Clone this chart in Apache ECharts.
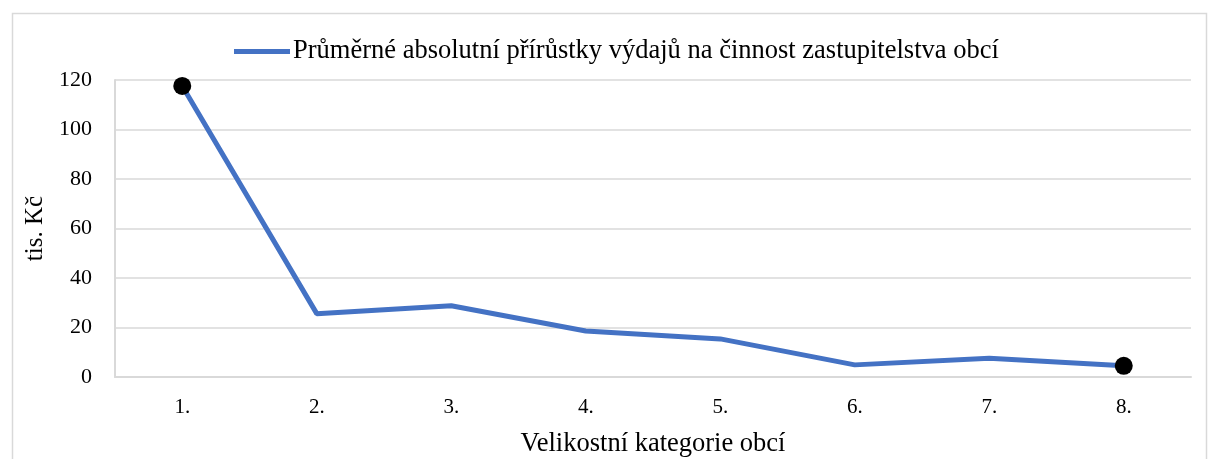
<!DOCTYPE html>
<html>
<head>
<meta charset="UTF-8">
<title>ECharts</title>
<script src="https://cdn.jsdelivr.net/npm/echarts@6/dist/echarts.min.js"></script>
<style>
  html, body { margin: 0; padding: 0; background: #fff; }
  #main { width: 1208px; height: 459px; }
</style>
</head>
<body>
<div id="main"></div>
<script>
// data
var categories = ['1.', '2.', '3.', '4.', '5.', '6.', '7.', '8.'];
var prirustky = [117.6, 25.6, 28.8, 18.6, 15.4, 4.9, 7.6, 4.5];
var seriesName = 'Průměrné absolutní přírůstky výdajů na činnost zastupitelstva obcí';

var font = 'Liberation Serif';
var myChart = echarts.init(document.getElementById('main'));

// only first and last point get a marker
var lineData = prirustky.map(function (v, i) {
    var edge = (i === 0 || i === prirustky.length - 1);
    return {
        value: v,
        symbol: edge ? 'circle' : 'none',
        symbolSize: 18,
        itemStyle: { color: '#000' }
    };
});

var option = {
    animation: false,
    graphic: [{
        type: 'rect',
        left: 10, top: 11,
        shape: { width: 1194, height: 460 },
        style: { fill: 'none', stroke: '#d9d9d9', lineWidth: 1.5 },
        silent: true
    }],
    legend: {
        data: [{ name: seriesName, icon: 'path://M0,0 L56,0 L56,5 L0,5 Z', itemStyle: { color: '#4472C4' } }],
        top: 33,
        left: 229,
        itemWidth: 56,
        itemHeight: 5,
        itemGap: 4,
        textStyle: { fontFamily: font, fontSize: 26.5, color: '#000', padding: [0, 0, 0, -2] }
    },
    grid: { left: 115, right: 17, top: 80, bottom: 82, outerBoundsMode: 'none' },
    xAxis: {
        type: 'category',
        data: categories,
        boundaryGap: true,
        name: 'Velikostní kategorie obcí',
        nameLocation: 'middle',
        nameGap: 54,
        nameTextStyle: { fontFamily: font, fontSize: 26.5, color: '#000' },
        axisLine: { lineStyle: { color: '#d9d9d9', width: 2 } },
        axisTick: { show: false },
        axisLabel: { fontFamily: font, fontSize: 21, color: '#000', margin: 20 }
    },
    yAxis: {
        type: 'value',
        min: 0, max: 120, interval: 20,
        name: 'tis. Kč',
        nameLocation: 'middle',
        nameGap: 57,
        nameTextStyle: { fontFamily: font, fontSize: 25, color: '#000' },
        axisLine: { show: true, lineStyle: { color: '#d9d9d9', width: 2 } },
        axisTick: { show: false },
        axisLabel: { fontFamily: font, fontSize: 22, color: '#000', margin: 23 },
        splitLine: { lineStyle: { color: '#d9d9d9', width: 1.5 } }
    },
    series: [{
        name: seriesName,
        type: 'line',
        data: lineData,
        showSymbol: true,
        lineStyle: { color: '#4472C4', width: 5 },
        itemStyle: { color: '#4472C4' }
    }]
};

myChart.setOption(option);
</script>
</body>
</html>
